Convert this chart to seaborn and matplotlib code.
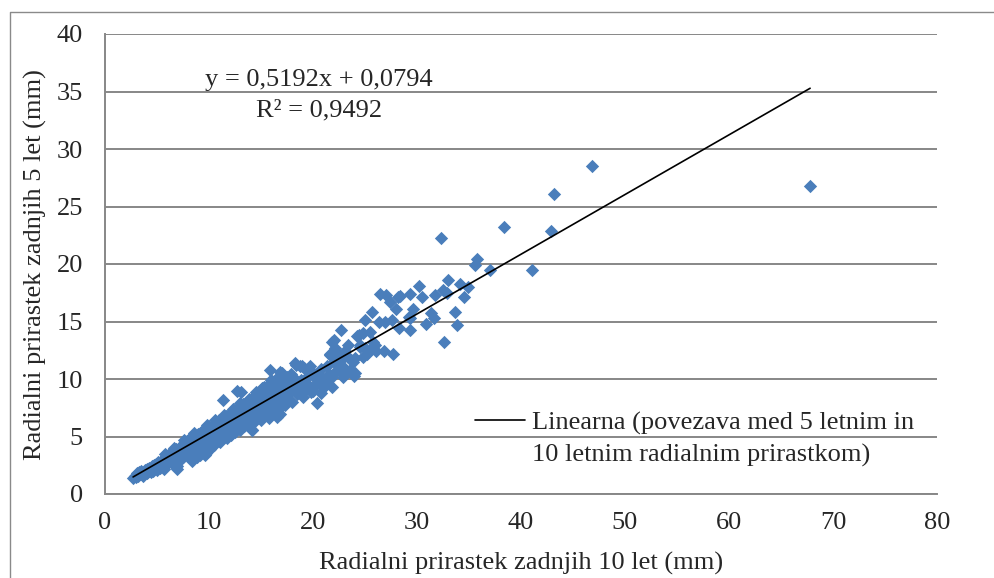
import matplotlib
matplotlib.use("Agg")
import matplotlib.pyplot as plt
from matplotlib.lines import Line2D
import seaborn as sns
import numpy as np
import pandas as pd

# Radial increment of last 10 years (mm)
x10 = [2.7, 2.9, 3.0, 3.1, 3.2, 3.3, 3.4, 3.5, 3.6, 3.7, 3.8, 3.9, 4.0, 4.0, 4.1, 4.2, 4.3, 4.4, 4.5, 4.5,
       4.6, 4.7, 4.8, 4.9, 5.0, 5.0, 5.1, 5.2, 5.3, 5.4, 5.5, 5.5, 5.6, 5.7, 5.8, 5.9, 6.0, 6.0, 6.1, 6.2,
       6.3, 6.4, 6.5, 6.5, 6.6, 6.7, 6.8, 6.9, 7.0, 7.0, 7.1, 7.2, 7.3, 7.4, 7.5, 7.5, 7.6, 7.7, 7.8, 7.9,
       8.0, 8.0, 8.1, 8.2, 8.3, 8.4, 8.5, 8.5, 8.6, 8.7, 8.8, 8.9, 9.0, 9.0, 9.1, 9.2, 9.3, 9.4, 9.5, 9.5,
       9.6, 9.7, 9.8, 9.9, 10.0, 10.0, 10.1, 10.2, 10.3, 10.4, 10.5, 10.5, 10.6, 10.7, 10.8, 10.9, 11.0, 11.0, 11.1, 11.2,
       11.3, 11.3, 11.4, 11.5, 11.6, 11.7, 11.8, 11.9, 12.0, 12.0, 12.1, 12.2, 12.3, 12.4, 12.5, 12.6, 12.7, 12.8, 12.9, 13.0,
       13.1, 13.1, 13.2, 13.3, 13.4, 13.5, 13.6, 13.7, 13.8, 13.9, 14.0, 14.0, 14.1, 14.2, 14.3, 14.4, 14.5, 14.6, 14.7, 14.8,
       14.9, 15.0, 15.0, 15.1, 15.2, 15.3, 15.4, 15.5, 15.6, 15.7, 15.8, 15.9, 15.9, 16.0, 16.1, 16.2, 16.3, 16.4, 16.5, 16.6,
       16.7, 16.8, 16.8, 16.9, 17.0, 17.1, 17.2, 17.3, 17.5, 17.6, 17.8, 17.9, 18.0, 18.1, 18.2, 18.4, 18.5, 18.6, 18.8, 18.9,
       19.0, 19.2, 19.4, 19.5, 19.7, 19.8, 20.0, 20.1, 20.4, 20.3, 20.6, 20.8, 21.0, 21.2, 21.3, 21.5, 21.6, 21.8, 21.8, 22.0,
       22.1, 22.0, 22.3, 22.5, 22.6, 22.7, 22.9, 23.1, 23.1, 23.4, 23.6, 23.8, 24.0, 24.0, 24.2, 24.4, 24.5, 24.5, 24.8, 24.8,
       25.0, 25.0, 25.2, 25.5, 25.5, 25.7, 25.8, 26.0, 26.1, 26.3, 26.4, 26.8, 26.9, 27.0, 27.4, 27.6, 27.7, 28.0, 28.2, 28.3,
       28.4, 29.2, 29.3, 29.3, 29.3, 29.6, 30.2, 30.5, 30.9, 31.3, 31.6, 31.7, 32.3, 32.5, 32.6, 32.9, 33.0, 33.7, 33.8, 34.1,
       34.5, 34.9, 35.6, 35.8, 37.0, 38.4, 41.1, 42.9, 43.2, 46.8, 67.8,
       17.0, 17.5, 16.3, 16.8, 18.1, 18.75, 19.4, 20.0, 18.9, 21.15, 21.8, 20.8, 15.2, 15.9, 13.9, 14.6, 15.2, 16.5, 16.8, 14.6,
       21.6, 22.4, 23.4, 23.7, 22.75, 23.2, 23.9, 22.9, 20.8, 21.6, 22.1, 18.3, 18.75, 19.7,
       8.8, 9.6, 6.9, 7.8, 8.1, 14.1, 12.9, 13.3, 11.8, 10.6, 12.2, 9.3, 6.3, 5.3, 4.2, 3.6, 7.2, 11.6, 13.6, 10.9,
       9.8, 10.6, 11.4, 12.3, 13.0, 13.8, 14.5, 15.3, 16.0, 16.7, 8.6, 7.6, 6.6, 5.8, 17.4, 19.1]

# Radial increment of last 5 years (mm)
y5 = [1.4, 1.6, 1.5, 1.8, 1.6, 1.9, 1.7, 2.0, 1.8, 1.6, 2.1, 1.9, 2.2, 1.8, 2.0, 2.3, 2.1, 1.9, 2.4, 2.2,
      2.0, 2.5, 2.3, 2.6, 2.4, 2.1, 2.8, 2.6, 2.3, 2.9, 2.7, 2.5, 3.0, 2.2, 2.8, 3.1, 2.6, 3.3, 2.9, 3.5,
      3.1, 2.7, 3.4, 3.7, 3.0, 3.2, 3.9, 2.4, 3.6, 3.3, 4.0, 3.0, 3.8, 4.2, 3.5, 3.2, 4.4, 3.9, 3.6, 4.6,
      4.1, 3.4, 4.8, 3.9, 4.3, 2.9, 4.6, 4.0, 5.0, 3.7, 4.4, 5.2, 4.2, 4.8, 3.4, 5.4, 4.5, 5.0, 4.0, 5.6,
      4.7, 3.6, 5.2, 4.4, 5.8, 4.9, 3.9, 5.5, 4.6, 6.0, 5.1, 4.3, 5.8, 6.2, 4.8, 5.4, 6.4, 5.0, 4.5, 5.7,
      6.6, 8.2, 5.2, 6.0, 6.8, 4.9, 5.5, 6.3, 7.0, 5.8, 5.1, 6.5, 7.3, 6.0, 5.4, 6.8, 9.0, 7.5, 6.2, 5.6,
      8.9, 7.0, 6.5, 7.8, 5.9, 7.2, 6.7, 8.0, 6.1, 7.4, 8.3, 6.8, 5.6, 7.6, 6.3, 8.5, 7.0, 6.6, 7.9, 8.8,
      7.3, 6.4, 8.1, 9.2, 7.5, 6.9, 8.4, 7.1, 9.4, 7.7, 6.6, 10.8, 8.6, 7.3, 9.0, 7.9, 9.6, 7.0, 8.3, 10.0,
      8.8, 10.6, 7.5, 9.3, 8.1, 10.2, 9.5, 7.7, 8.6, 9.8, 9.0, 10.4, 8.0, 10.2, 9.3, 11.2, 8.7, 9.6, 9.9, 11.1,
      8.4, 9.2, 9.6, 10.3, 10.8, 8.9, 10.5, 9.4, 7.9, 10.0, 9.7, 10.9, 9.2, 9.6, 11.1, 10.4, 12.2, 10.2, 13.2, 13.4,
      12.7, 11.5, 12.1, 10.8, 11.1, 14.3, 11.8, 10.9, 12.4, 13.0, 10.8, 11.5, 10.5, 11.8, 13.7, 13.8, 13.0, 12.8, 14.0, 11.9,
      12.7, 15.1, 12.2, 14.1, 12.5, 15.8, 13.2, 13.0, 12.4, 15.0, 17.4, 12.4, 15.0, 17.3, 16.7, 15.1, 12.2, 16.1, 17.1, 14.4,
      17.2, 15.4, 17.4, 15.3, 14.3, 16.1, 18.1, 17.1, 14.8, 15.7, 15.3, 17.3, 22.3, 17.7, 13.2, 17.5, 18.6, 15.8, 14.7, 18.3,
      17.1, 18.0, 19.9, 20.4, 19.5, 23.2, 19.5, 22.9, 26.1, 28.5, 26.8,
      10.5, 10.2, 9.6, 9.5, 9.9, 9.3, 9.6, 9.0, 8.8, 9.5, 9.3, 8.8, 9.2, 9.0, 8.0, 7.6, 7.0, 6.7, 7.0, 6.7,
      12.1, 12.2, 11.9, 11.65, 11.1, 10.6, 10.3, 10.2, 10.2, 10.2, 10.6, 11.4, 11.1, 11.1,
      3.2, 3.4, 2.2, 4.5, 3.7, 5.6, 6.9, 6.1, 5.9, 4.7, 5.3, 4.3, 2.8, 2.4, 2.0, 1.7, 3.0, 5.3, 6.2, 5.8,
      6.0, 6.4, 6.9, 7.4, 7.9, 8.3, 8.9, 9.3, 9.9, 10.3, 5.3, 4.7, 4.0, 3.5, 10.0, 11.0]

# Linear trend (from the chart)
slope = 0.5192
intercept = 0.0794
eq_text = "y = 0,5192x + 0,0794"
r2_text = "R² = 0,9492"
legend_line1 = "Linearna (povezava med 5 letnim in"
legend_line2 = "10 letnim radialnim prirastkom)"
xlabel = "Radialni prirastek zadnjih 10 let (mm)"
ylabel = "Radialni prirastek zadnjih 5 let (mm)"
xticks = [0, 10, 20, 30, 40, 50, 60, 70, 80]
yticks = [0, 5, 10, 15, 20, 25, 30, 35, 40]

df = pd.DataFrame({"x": x10, "y": y5})
xs = np.array([min(x10), max(x10)])
trend = pd.DataFrame({"x": xs, "y": slope * xs + intercept})

sns.set_style("white")
plt.rcParams["font.family"] = ["Liberation Serif", "DejaVu Serif"]
FS = 19

W, H = 995, 578
fig = plt.figure(figsize=(W / 100, H / 100), dpi=100)
ax = fig.add_axes([105 / W, 1 - 494 / H, (937 - 105) / W, (494 - 34) / H])

GRID = "#878787"
sns.scatterplot(data=df, x="x", y="y", ax=ax, marker="D", s=46, color="#4A7EBB",
                edgecolor="#4A7EBB", linewidth=0, zorder=3, legend=False)
sns.lineplot(data=trend, x="x", y="y", ax=ax, color="black", linewidth=1.2, zorder=4,
             label=legend_line1)

ax.set_xlim(0, 80)
ax.set_ylim(0, 40)
ax.set_xticks(xticks)
ax.set_yticks(yticks)
ax.tick_params(axis="both", length=0, labelsize=FS)
ax.tick_params(axis="x", pad=13)
ax.tick_params(axis="y", pad=16)
ax.yaxis.grid(True, color=GRID, linewidth=1.4)
ax.xaxis.grid(False)
ax.set_axisbelow(True)
for side in ["top", "right"]:
    ax.spines[side].set_visible(False)
for side in ["left", "bottom"]:
    ax.spines[side].set_color(GRID)
    ax.spines[side].set_linewidth(1.4)

ax.set_xlabel(xlabel, fontsize=FS)
ax.set_ylabel(ylabel, fontsize=FS)
ax.xaxis.label.set_va("center")
ax.yaxis.label.set_va("center")
ax.xaxis.set_label_coords((521 - 105) / 832, (494 - 563) / 460)
ax.yaxis.set_label_coords((35 - 105) / 832, (494 - 265) / 460)

# legend
leg = ax.legend(loc="center left", bbox_to_anchor=(475 / W, 1 - 423 / H),
                bbox_transform=fig.transFigure, frameon=False, fontsize=FS,
                handlelength=1.9, handletextpad=0.27, borderpad=0, borderaxespad=0)
fig.text(532 / W, 1 - 455 / H, legend_line2, fontsize=FS, ha="left", va="center")

# trendline equation
fig.text(319 / W, 1 - 80 / H, eq_text, fontsize=FS, ha="center", va="center")
fig.text(319 / W, 1 - 110 / H, r2_text, fontsize=FS, ha="center", va="center")

# outer chart frame
fig.add_artist(Line2D([10 / W, 10 / W, 1.0], [0.0, 1 - 12 / H, 1 - 12 / H],
                      transform=fig.transFigure, color="#8a8a8a", linewidth=1.0))

fig.savefig("out.png", dpi=100)
